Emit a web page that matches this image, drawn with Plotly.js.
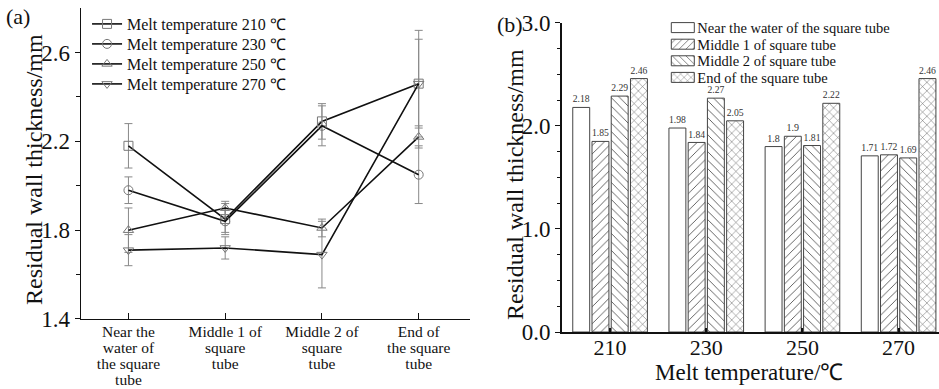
<!DOCTYPE html>
<html>
<head>
<meta charset="utf-8">
<script src="https://cdn.plot.ly/plotly-3.0.1.min.js"></script>
<style>html,body{margin:0;padding:0;background:#fff;}#chart{width:939px;height:389px;}</style>
</head>
<body>
<div id="chart"></div>
<script>
// ---- data ----
const positions = ['Near the<br>water of<br>the square<br>tube', 'Middle 1 of<br>square<br>tube', 'Middle 2 of<br>square<br>tube', 'End of<br>the square<br>tube'];
const positionNames = ['Near the water of the square tube', 'Middle 1 of square tube', 'Middle 2 of square tube', 'End of the square tube'];
const temperatures = ['210', '230', '250', '270'];
const t210 = [2.18, 1.85, 2.29, 2.46];
const t230 = [1.98, 1.84, 2.27, 2.05];
const t250 = [1.80, 1.90, 1.81, 2.22];
const t270 = [1.71, 1.72, 1.69, 2.46];
const e210 = [0.10, 0.07, 0.08, 0.20];
const e230 = [0.06, 0.05, 0.09, 0.13];
const e250 = [0.10, 0.03, 0.04, 0.05];
const e270 = [0.07, 0.05, 0.15, 0.24];

const series = [t210, t230, t250, t270];
const errors = [e210, e230, e250, e270];
const symbols = ['square-open', 'circle-open', 'triangle-up-open', 'triangle-down-open'];
const patterns = ['', '/', '\\', 'x'];

const FONT = "'Liberation Serif', 'Times New Roman', Times, serif";
const traces = [];
series.forEach((s, i) => {
  traces.push({
    type: 'scatter', mode: 'lines+markers', x: positions, y: s,
    name: 'Melt temperature ' + temperatures[i] + ' ℃',
    xaxis: 'x', yaxis: 'y', legend: 'legend',
    line: {color: '#111', width: 1.6},
    marker: {symbol: symbols[i], size: 9, color: '#777', line: {width: 1, color: '#777'}},
    error_y: {type: 'data', array: errors[i], visible: true, color: '#888', thickness: 1, width: 4}
  });
});
positionNames.forEach((p, j) => {
  const vals = series.map(s => s[j]);
  traces.push({
    type: 'bar', x: temperatures, y: vals, name: p,
    xaxis: 'x2', yaxis: 'y2', legend: 'legend2',
    text: vals.map(v => String(v)), textposition: 'outside', cliponaxis: false,
    textfont: {family: FONT, size: 10, color: '#333'},
    marker: {color: '#fff', line: {color: '#444', width: 1},
      pattern: {shape: patterns[j], fgcolor: '#555', bgcolor: '#fff', size: 6, solidity: 0.15}}
  });
});

const layout = {
  width: 939, height: 389,
  margin: {l: 0, r: 0, t: 0, b: 0},
  paper_bgcolor: '#fff', plot_bgcolor: '#fff',
  font: {family: FONT, color: '#111'},
  barmode: 'group', bargap: 0.2, bargroupgap: 0.12,
  showlegend: true,
  xaxis: {domain: [0.0863, 0.5005], anchor: 'y', type: 'category', range: [-0.49, 3.53],
    showline: true, linecolor: '#111', linewidth: 1.5, ticks: 'inside', ticklen: 6, tickcolor: '#111',
    tickfont: {size: 15.5, family: FONT}, ticklabelstandoff: -2, showgrid: false, zeroline: false},
  yaxis: {domain: [0.18, 0.979], anchor: 'x', range: [1.4, 2.8], tickvals: [1.4, 1.8, 2.2, 2.6],
    ticktext: ['1.4', '1.8', '2.2', '2.6'],
    showline: true, linecolor: '#111', linewidth: 1.5, ticks: 'outside', ticklen: 5, tickcolor: '#111',
    minor: {tickvals: [1.6, 2.0, 2.4], ticks: 'outside', ticklen: 4, tickcolor: '#111'},
    tickfont: {size: 23, family: FONT}, showgrid: false, zeroline: false},
  xaxis2: {domain: [0.5985, 1.0], anchor: 'y2', type: 'category', range: [-0.5, 3.42],
    showline: true, linecolor: '#111', linewidth: 2, ticks: 'inside', ticklen: 4, tickwidth: 2, tickcolor: '#111',
    tickfont: {size: 22, family: FONT}, ticklabelstandoff: -5, showgrid: false, zeroline: false},
  yaxis2: {domain: [0.1465, 0.941], anchor: 'x2', range: [0, 3], dtick: 1, tickformat: '.1f',
    showline: true, linecolor: '#111', linewidth: 2, ticks: 'outside', ticklen: 5, tickcolor: '#111',
    minor: {dtick: 0.25, ticks: 'outside', ticklen: 3, tickcolor: '#111'},
    tickfont: {size: 23, family: FONT}, showgrid: false, zeroline: false},
  legend: {x: 0.0927, y: 0.982, xanchor: 'left', yanchor: 'top', bgcolor: 'rgba(0,0,0,0)',
    font: {size: 16, family: FONT}},
  legend2: {x: 0.70, y: 0.97, xanchor: 'left', yanchor: 'top', bgcolor: 'rgba(0,0,0,0)',
    font: {size: 14.5, family: FONT}},
  annotations: [
    {text: '(a)', xref: 'paper', yref: 'paper', x: 0.004, y: 0.995, xanchor: 'left', yanchor: 'top',
     showarrow: false, font: {size: 22, family: FONT}},
    {text: '(b)', xref: 'paper', yref: 'paper', x: 0.527, y: 0.975, xanchor: 'left', yanchor: 'top',
     showarrow: false, font: {size: 22, family: FONT}},
    {text: 'Residual wall thickness/mm', xref: 'paper', yref: 'paper', x: 34 / 939, y: 1 - 170 / 389,
     xanchor: 'center', yanchor: 'middle', textangle: -90, showarrow: false, font: {size: 24, family: FONT}},
    {text: 'Residual wall thickness/mm', xref: 'paper', yref: 'paper', x: 515 / 939, y: 1 - 185 / 389,
     xanchor: 'center', yanchor: 'middle', textangle: -90, showarrow: false, font: {size: 24, family: FONT}},
    {text: 'Melt temperature/℃', xref: 'paper', yref: 'paper', x: 749 / 939, y: 1 - 372 / 389,
     xanchor: 'center', yanchor: 'middle', showarrow: false, font: {size: 23, family: FONT}}
  ]
};

// tighten legend row spacing to match the reference
function tightenLegend(cls, spacing) {
  const g = document.querySelector('#chart g.' + cls);
  if (!g) return;
  const items = g.querySelectorAll('g.traces');
  let y0 = null;
  items.forEach((it, i) => {
    const t = it.getAttribute('transform') || '';
    const m = t.match(/translate\(\s*([-\d.e]+)[ ,]+([-\d.e]+)\s*\)/);
    if (!m) return;
    const x = parseFloat(m[1]), y = parseFloat(m[2]);
    if (y0 === null) y0 = y;
    it.setAttribute('transform', 'translate(' + x + ',' + (y0 + i * spacing) + ')');
  });
}

Plotly.newPlot('chart', traces, layout, {displayModeBar: false, staticPlot: true}).then(() => {
  tightenLegend('legend', 20);
  tightenLegend('legend2', 16.6);
  // wider, flatter swatches for the bar legend
  document.querySelectorAll('#chart g.legend2 g.legendpoints path').forEach(p => {
    p.setAttribute('d', 'M17,5H-6V-5H17Z');
  });
  // tighter line spacing of the multi-line category labels (scale the em offsets)
  document.querySelectorAll('#chart g.xtick text tspan.line').forEach(ts => {
    const dy = ts.getAttribute('dy');
    if (dy && /em$/.test(dy)) {
      const v = parseFloat(dy);
      if (v) ts.setAttribute('dy', (v / 1.3 * 1.04).toFixed(3) + 'em');
    }
  });
});
</script>
</body>
</html>
